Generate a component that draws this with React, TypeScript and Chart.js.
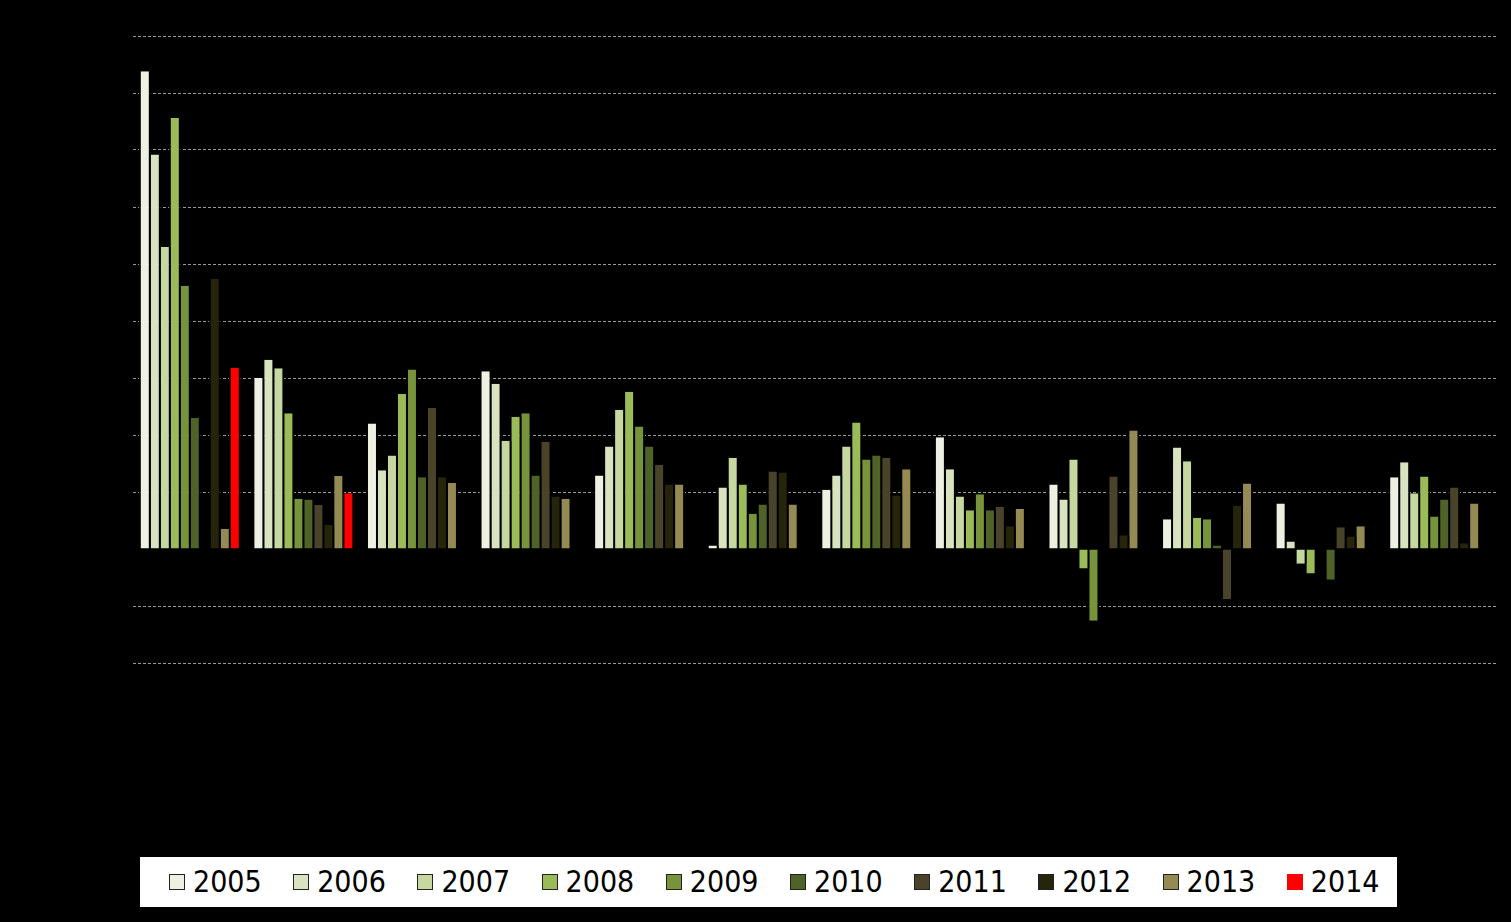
import React, { useEffect, useRef } from 'react';
import { Chart, registerables } from 'chart.js';

Chart.register(...registerables);

const categories = ['1', '2', '3', '4', '5', '6', '7', '8', '9', '10', '11', '12'];
const years = ['2005', '2006', '2007', '2008', '2009', '2010', '2011', '2012', '2013', '2014'];

const v2005 = [41.9, 15.0, 11.0, 15.6, 6.45, 0.3, 5.2, 9.8, 5.65, 2.6, 4.0, 6.3];
const v2006 = [34.6, 16.6, 6.9, 14.5, 9.0, 5.4, 6.45, 7.0, 4.35, 8.9, 0.65, 7.6];
const v2007 = [26.5, 15.85, 8.2, 9.5, 12.2, 8.0, 9.0, 4.6, 7.85, 7.7, -1.3, 4.9];
const v2008 = [37.8, 11.9, 13.6, 11.6, 13.8, 5.65, 11.1, 3.4, -1.7, 2.75, -2.15, 6.35];
const v2009 = [23.1, 4.4, 15.75, 11.9, 10.75, 3.1, 7.85, 4.8, -6.3, 2.6, null, 2.85];
const v2010 = [11.5, 4.35, 6.3, 6.45, 9.0, 3.9, 8.2, 3.4, null, 0.3, -2.7, 4.35];
const v2011 = [null, 3.85, 12.4, 9.4, 7.4, 6.8, 8.0, 3.7, 6.35, -4.4, 1.9, 5.4];
const v2012 = [23.7, 2.1, 6.3, 4.6, 5.65, 6.7, 4.7, 2.0, 1.2, 3.8, 1.1, 0.5];
const v2013 = [1.75, 6.4, 5.8, 4.4, 5.65, 3.9, 7.0, 3.5, 10.4, 5.75, 2.0, 4.0];
const v2014 = [15.9, 4.9, null, null, null, null, null, null, null, null, null, null];

const seriesValues = [v2005, v2006, v2007, v2008, v2009, v2010, v2011, v2012, v2013, v2014];
const seriesColors = [
  '#EEF1E2', '#D9E3BF', '#C6D8A0', '#9BBB59', '#77933C',
  '#4F6228', '#494429', '#26240A', '#948A54', '#FF0000',
];

const yMin = -10;
const yMax = 45;
const yStep = 5;

export default function App() {
  const canvasRef = useRef<HTMLCanvasElement | null>(null);

  useEffect(() => {
    if (!canvasRef.current) return;
    const chart = new Chart(canvasRef.current, {
      type: 'bar',
      data: {
        labels: categories,
        datasets: years.map((y, i) => ({
          label: y,
          data: seriesValues[i],
          backgroundColor: seriesColors[i],
          borderColor: '#000000',
          borderWidth: { left: 2, right: 2, top: 0, bottom: 0 },
          borderSkipped: false,
        })),
      },
      options: {
        responsive: false,
        animation: false,
        devicePixelRatio: 1,
        categoryPercentage: 0.88,
        barPercentage: 1.2,
        layout: { padding: { left: 133, right: 15, top: 36, bottom: 259 } },
        plugins: {
          legend: { display: false },
          tooltip: { enabled: false },
        },
        scales: {
          x: { display: false },
          y: {
            min: yMin,
            max: yMax,
            ticks: { display: false, stepSize: yStep },
            border: { display: false, dash: [3, 2] },
            grid: {
              drawTicks: false,
              lineWidth: 1,
              color: (ctx: any) => (ctx.tick && ctx.tick.value === 0 ? 'rgba(0,0,0,0)' : '#9a9a9a'),
            },
          },
        },
      } as any,
    });
    return () => chart.destroy();
  }, []);

  return (
    <div style={{ position: 'fixed', left: 0, top: 0, width: 1511, height: 922, background: '#000', overflow: 'hidden' }}>
      <canvas ref={canvasRef} width={1511} height={922} style={{ position: 'absolute', left: 0, top: 0 }} />
      <div
        style={{
          position: 'absolute',
          left: 140,
          top: 857,
          width: 1257,
          height: 50,
          background: '#ffffff',
        }}
      >
        {years.map((y, i) => (
          <div
            key={y}
            style={{
              position: 'absolute',
              left: 29 + i * 124.2,
              top: 0,
              height: 50,
              display: 'flex',
              alignItems: 'center',
            }}
          >
            <span
              style={{
                display: 'inline-block',
                width: 14,
                height: 14,
                background: seriesColors[i],
                border: `1px solid ${i === 9 ? '#FF0000' : '#222'}`,
                marginRight: 8,
              }}
            />
            <span
              style={{
                fontFamily: '"DejaVu Sans Condensed", "DejaVu Sans", sans-serif',
                fontSize: 30,
                color: '#000',
                lineHeight: '30px',
              }}
            >
              {y}
            </span>
          </div>
        ))}
      </div>
    </div>
  );
}
